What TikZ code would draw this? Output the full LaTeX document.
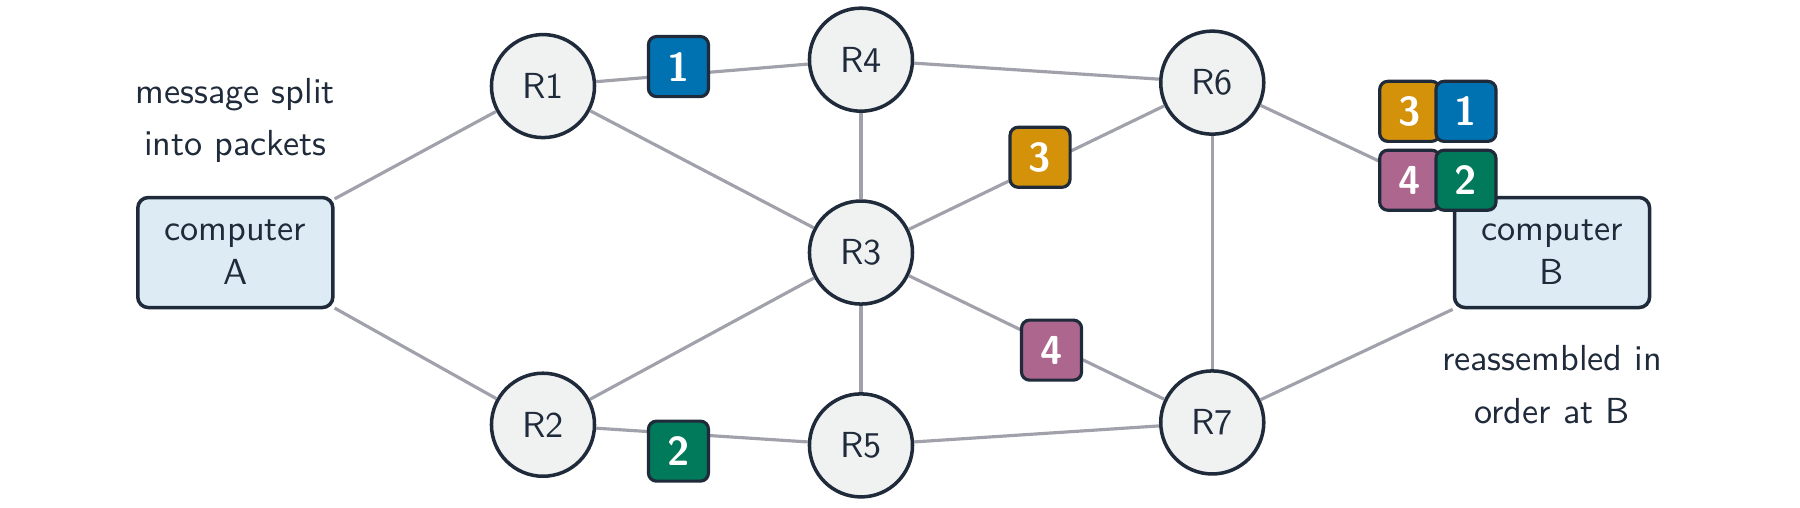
\documentclass[tikz,border=0pt]{standalone}
\definecolor{txt}{HTML}{1F2A3A}
\definecolor{nodefill}{HTML}{F0F1F1}
\definecolor{compfill}{HTML}{DCEBF4}
\definecolor{edgec}{HTML}{A0A1AA}
\definecolor{cblue}{HTML}{0072B2}
\definecolor{corange}{HTML}{D4920A}
\definecolor{cpink}{HTML}{AD668E}
\definecolor{cgreen}{HTML}{007A5A}
\begin{document}
\begin{tikzpicture}[x=0.01148cm,y=-0.01148cm,font=\sffamily\fontsize{10.3}{12.5}\selectfont,
  every node/.style={text=txt},
  router/.style={circle,draw=txt,line width=1pt,fill=nodefill,minimum size=1.03cm,inner sep=0pt},
  comp/.style={rectangle,rounded corners=3pt,draw=txt,line width=1pt,fill=compfill,minimum width=1.95cm,minimum height=1.1cm,align=center},
  pkt/.style={rectangle,rounded corners=2.3pt,draw=txt,line width=0.9pt,minimum size=0.6cm,inner sep=0pt,text=white,font=\sffamily\bfseries\fontsize{11.5}{13}\selectfont},
  edge/.style={draw=edgec,line width=0.9pt},
  lbl/.style={align=center,font=\sffamily\fontsize{10.3}{15}\selectfont}]
\node[router] (R1) at (473,75) {R1};
\node[router] (R4) at (750,52) {R4};
\node[router] (R6) at (1056,72) {R6};
\node[router] (R3) at (750,220) {R3};
\node[router] (R2) at (473,370) {R2};
\node[router] (R5) at (750,388) {R5};
\node[router] (R7) at (1056,368) {R7};
\node[comp] (A) at (205,220) {computer\\A};
\node[comp] (B) at (1352,220) {computer\\B};
\node[lbl] (la) at (205,105) {message split\\into packets};
\node[lbl] (lb) at (1352,335) {reassembled in\\order at B};
\draw[edge] (A) -- (R1);
\draw[edge] (A) -- (R2);
\draw[edge] (R1) -- (R4);
\draw[edge] (R1) -- (R3);
\draw[edge] (R4) -- (R6);
\draw[edge] (R4) -- (R3);
\draw[edge] (R3) -- (R6);
\draw[edge] (R3) -- (R2);
\draw[edge] (R3) -- (R5);
\draw[edge] (R3) -- (R7);
\draw[edge] (R2) -- (R5);
\draw[edge] (R5) -- (R7);
\draw[edge] (R6) -- (R7);
\draw[edge] (R6) -- (B.north west);
\draw[edge] (R7) -- (B.south west);
\node[pkt,fill=cblue] (p1) at (591,58) {1};
\node[pkt,fill=corange] (p3) at (906,137) {3};
\node[pkt,fill=cpink] (p4) at (916,305) {4};
\node[pkt,fill=cgreen] (p2) at (591,393) {2};
\node[pkt,fill=corange] (b3) at (1228,97) {3};
\node[pkt,fill=cblue] (b1) at (1277,97) {1};
\node[pkt,fill=cpink] (b4) at (1228,157) {4};
\node[pkt,fill=cgreen] (b2) at (1277,157) {2};
\pgfresetboundingbox
\path[use as bounding box] (0,0) rectangle (1568,442);
\end{tikzpicture}
\end{document}
